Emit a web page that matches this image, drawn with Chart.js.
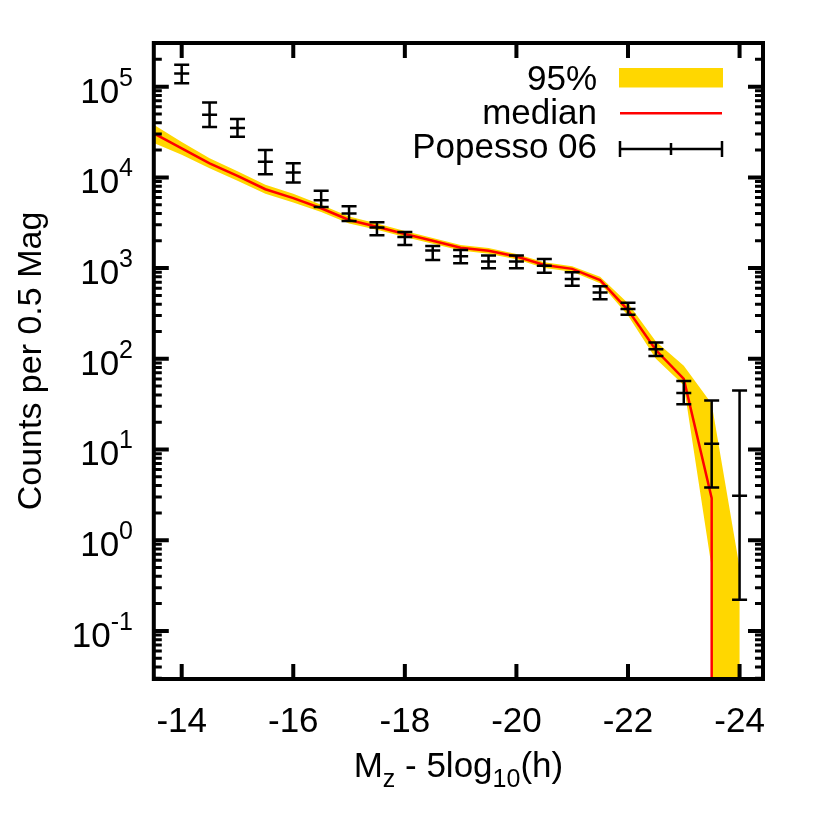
<!DOCTYPE html>
<html>
<head>
<meta charset="utf-8">
<script src="https://cdn.jsdelivr.net/npm/chart.js@4/dist/chart.umd.min.js"></script>
<style>
  html, body { margin: 0; padding: 0; background: #fff; }
  #wrap { width: 830px; height: 830px; }
</style>
</head>
<body>
<div id="wrap"><canvas id="lfChart" width="830" height="830"></canvas></div>
<script>
// magnitude bins of the model curves (M_z - 5log10 h)
const magBins = [-13.5, -14, -14.5, -15, -15.5, -16, -16.5, -17, -17.5, -18, -18.5,
                 -19, -19.5, -20, -20.5, -21, -21.5, -22, -22.5, -23, -23.5, -24];
const medianCounts = [3.06e4, 2.09e4, 1.43e4, 1.04e4, 7.4e3, 5.9e3, 4.57e3, 3.39e3, 2.86e3, 2.38e3, 2.0e3,
                      1.68e3, 1.55e3, 1.34e3, 1.08e3, 980, 738, 344, 125, 60, 2.9, 0];
const upperCounts = [3.8e4, 2.45e4, 1.62e4, 1.17e4, 8.3e3, 6.6e3, 5.0e3, 3.7e3, 3.1e3, 2.56e3, 2.14e3,
                     1.8e3, 1.66e3, 1.43e3, 1.16e3, 1.05e3, 800, 410, 155, 84, 32, 0.5];
const lowerCounts = [2.4e4, 1.78e4, 1.26e4, 9.2e3, 6.6e3, 5.3e3, 4.15e3, 3.1e3, 2.64e3, 2.2e3, 1.86e3,
                     1.56e3, 1.44e3, 1.25e3, 1.0e3, 910, 680, 300, 100, 51, 0.5, 0];

// Popesso 06 data points with error bars
const popessoMag = [-14, -14.5, -15, -15.5, -16, -16.5, -17, -17.5, -18, -18.5, -19,
                    -19.5, -20, -20.5, -21, -21.5, -22, -22.5, -23, -23.5, -24];
const popessoCounts = [1.4e5, 4.9e4, 3.5e4, 1.49e4, 1.13e4, 5.6e3, 4.0e3, 2.8e3, 2.2e3, 1.56e3, 1.35e3,
                       1.18e3, 1.18e3, 1.06e3, 760, 537, 355, 127, 42, 11.6, 3.1];
const popessoLow = [1.09e5, 3.6e4, 2.8e4, 1.08e4, 8.8e3, 4.7e3, 3.3e3, 2.3e3, 1.8e3, 1.23e3, 1.13e3,
                    995, 995, 890, 640, 453, 305, 107, 31.6, 3.8, 0.22];
const popessoHigh = [1.74e5, 6.7e4, 4.4e4, 2.0e4, 1.43e4, 7.1e3, 4.8e3, 3.2e3, 2.5e3, 1.75e3, 1.58e3,
                     1.38e3, 1.38e3, 1.26e3, 900, 630, 415, 151, 57, 34.7, 44.7];

const xTickValues = [-14, -16, -18, -20, -22, -24];
const yTickValues = [0.1, 1, 10, 100, 1000, 10000, 100000];
const legendLabels = ['95%', 'median', 'Popesso 06'];

const xMin = -24.42, xMax = -13.5;
const yMin = 0.0295, yMax = 3.03e5;

const FONT = '"Liberation Sans", Arial, Helvetica, sans-serif';
const GOLD = '#ffd700';
const RED = '#ff0000';

// zero counts can't go on a log axis: the curve drops straight down at its last bin
function toPoints(mags, counts) {
    const pts = [];
    let last = null;
    for (let i = 0; i < mags.length; i++) {
        if (counts[i] > 0) {
            pts.push({x: mags[i], y: counts[i]});
            last = mags[i];
        }
    }
    pts.push({x: last, y: yMin});
    return pts;
}

const bandPoints = toPoints(magBins, upperCounts).concat(toPoints(magBins, lowerCounts).reverse());
const medianPoints = toPoints(magBins, medianCounts);
const popessoPoints = popessoMag.map((m, i) => ({x: m, y: popessoCounts[i]}));

// frame, inward ticks, y labels with exponents, axis titles, legend
const gnuplotLook = {
    id: 'gnuplotLook',
    afterDatasetsDraw(chart) {
        const {ctx, scales: {x, y}} = chart;
        ctx.save();
        ctx.strokeStyle = '#000';
        ctx.lineWidth = 2.5;
        popessoMag.forEach((m, i) => {
            const px = x.getPixelForValue(m);
            const top = y.getPixelForValue(popessoHigh[i]);
            const bot = y.getPixelForValue(popessoLow[i]);
            ctx.beginPath();
            ctx.moveTo(px, top); ctx.lineTo(px, bot);
            ctx.moveTo(px - 7.5, top); ctx.lineTo(px + 7.5, top);
            ctx.moveTo(px - 7.5, bot); ctx.lineTo(px + 7.5, bot);
            ctx.stroke();
        });
        ctx.restore();
    },
    afterDraw(chart) {
        const {ctx, chartArea: a, scales: {x, y}} = chart;
        ctx.save();
        ctx.strokeStyle = '#000';
        ctx.fillStyle = '#000';

        // ticks
        ctx.lineWidth = 4;
        ctx.beginPath();
        xTickValues.forEach(v => {
            const px = x.getPixelForValue(v);
            ctx.moveTo(px, a.bottom); ctx.lineTo(px, a.bottom - 15);
            ctx.moveTo(px, a.top); ctx.lineTo(px, a.top + 15);
        });
        yTickValues.forEach(v => {
            const py = y.getPixelForValue(v);
            ctx.moveTo(a.left, py); ctx.lineTo(a.left + 15, py);
            ctx.moveTo(a.right, py); ctx.lineTo(a.right - 15, py);
        });
        ctx.stroke();
        ctx.lineWidth = 3;
        ctx.beginPath();
        for (let d = -2; d <= 5; d++) {
            for (let k = 2; k <= 9; k++) {
                const v = k * Math.pow(10, d);
                if (v <= yMin || v >= yMax) continue;
                const py = y.getPixelForValue(v);
                ctx.moveTo(a.left, py); ctx.lineTo(a.left + 8, py);
                ctx.moveTo(a.right, py); ctx.lineTo(a.right - 8, py);
            }
        }
        ctx.stroke();

        // frame
        ctx.lineWidth = 4;
        ctx.strokeRect(a.left, a.top, a.right - a.left, a.bottom - a.top);

        // y tick labels 10^n
        ctx.textAlign = 'left';
        ctx.textBaseline = 'alphabetic';
        yTickValues.forEach(v => {
            const py = y.getPixelForValue(v);
            const exp = String(Math.round(Math.log10(v)));
            ctx.font = '25px ' + FONT;
            const expW = ctx.measureText(exp).width;
            ctx.font = '35px ' + FONT;
            const baseW = ctx.measureText('10').width;
            const right = 133;
            ctx.fillText('10', right - expW - baseW, py + 16);
            ctx.font = '25px ' + FONT;
            ctx.fillText(exp, right - expW, py - 1);
        });

        // x title: M_z - 5log_10(h)
        const parts = [['M', 35, 0], ['z', 25, 10], [' - 5log', 35, 0], ['10', 25, 10], ['(h)', 35, 0]];
        let total = 0;
        parts.forEach(p => { ctx.font = p[1] + 'px ' + FONT; total += ctx.measureText(p[0]).width; });
        let cx = (a.left + a.right) / 2 - total / 2;
        parts.forEach(p => {
            ctx.font = p[1] + 'px ' + FONT;
            ctx.fillText(p[0], cx, 777 + p[2]);
            cx += ctx.measureText(p[0]).width;
        });

        // y title
        ctx.save();
        ctx.translate(41, (a.top + a.bottom) / 2);
        ctx.rotate(-Math.PI / 2);
        ctx.textAlign = 'center';
        ctx.font = '34px ' + FONT;
        ctx.fillText('Counts per 0.5 Mag', 0, 0);
        ctx.restore();

        // legend
        ctx.font = '35px ' + FONT;
        ctx.textAlign = 'right';
        const baselines = [90, 124, 158];
        legendLabels.forEach((t, i) => ctx.fillText(t, 597, baselines[i]));
        ctx.fillStyle = GOLD;
        ctx.fillRect(619, 68, 104, 19.5);
        ctx.strokeStyle = RED;
        ctx.lineWidth = 2.5;
        ctx.beginPath();
        ctx.moveTo(620, 113.3); ctx.lineTo(722, 113.3);
        ctx.stroke();
        ctx.strokeStyle = '#000';
        ctx.beginPath();
        ctx.moveTo(620, 149); ctx.lineTo(722, 149);
        ctx.moveTo(620, 141); ctx.lineTo(620, 157);
        ctx.moveTo(722, 141); ctx.lineTo(722, 157);
        ctx.moveTo(671, 143); ctx.lineTo(671, 155);
        ctx.stroke();
        ctx.restore();
    }
};

Chart.defaults.font.family = FONT;
Chart.defaults.color = '#000';

const ctx = document.getElementById('lfChart').getContext('2d');
const lfChart = new Chart(ctx, {
    type: 'line',
    data: {
        datasets: [
            {
                label: legendLabels[2],
                data: popessoPoints,
                showLine: false,
                pointStyle: 'line',
                pointRadius: 7.5,
                pointBorderWidth: 2.5,
                pointBorderColor: '#000',
                borderColor: '#000',
                order: 1
            },
            {
                label: legendLabels[1],
                data: medianPoints,
                borderColor: RED,
                borderWidth: 2.5,
                pointRadius: 0,
                tension: 0,
                fill: false,
                order: 2
            },
            {
                label: legendLabels[0],
                data: bandPoints,
                borderColor: 'rgba(0,0,0,0)',
                borderWidth: 0,
                backgroundColor: GOLD,
                pointRadius: 0,
                tension: 0,
                fill: 'shape',
                order: 3
            }
        ]
    },
    options: {
        responsive: false,
        animation: false,
        devicePixelRatio: 1,
        layout: { padding: { top: 43, right: 67, left: 0, bottom: 0 } },
        scales: {
            x: {
                type: 'linear',
                min: xMin,
                max: xMax,
                reverse: true,
                grid: { display: false },
                border: { display: false },
                afterBuildTicks: function(scale) {
                    scale.ticks = xTickValues.map(v => ({ value: v }));
                },
                ticks: {
                    font: { size: 35 },
                    color: '#000',
                    padding: 14,
                    maxRotation: 0,
                    callback: function(value) { return String(value); }
                },
                afterFit: function(scale) { scale.height = 151; }
            },
            y: {
                type: 'logarithmic',
                min: yMin,
                max: yMax,
                grid: { display: false },
                border: { display: false },
                ticks: { display: false },
                afterFit: function(scale) { scale.width = 153.8; }
            }
        },
        plugins: {
            legend: { display: false },
            tooltip: { enabled: false }
        }
    },
    plugins: [gnuplotLook]
});
</script>
</body>
</html>
